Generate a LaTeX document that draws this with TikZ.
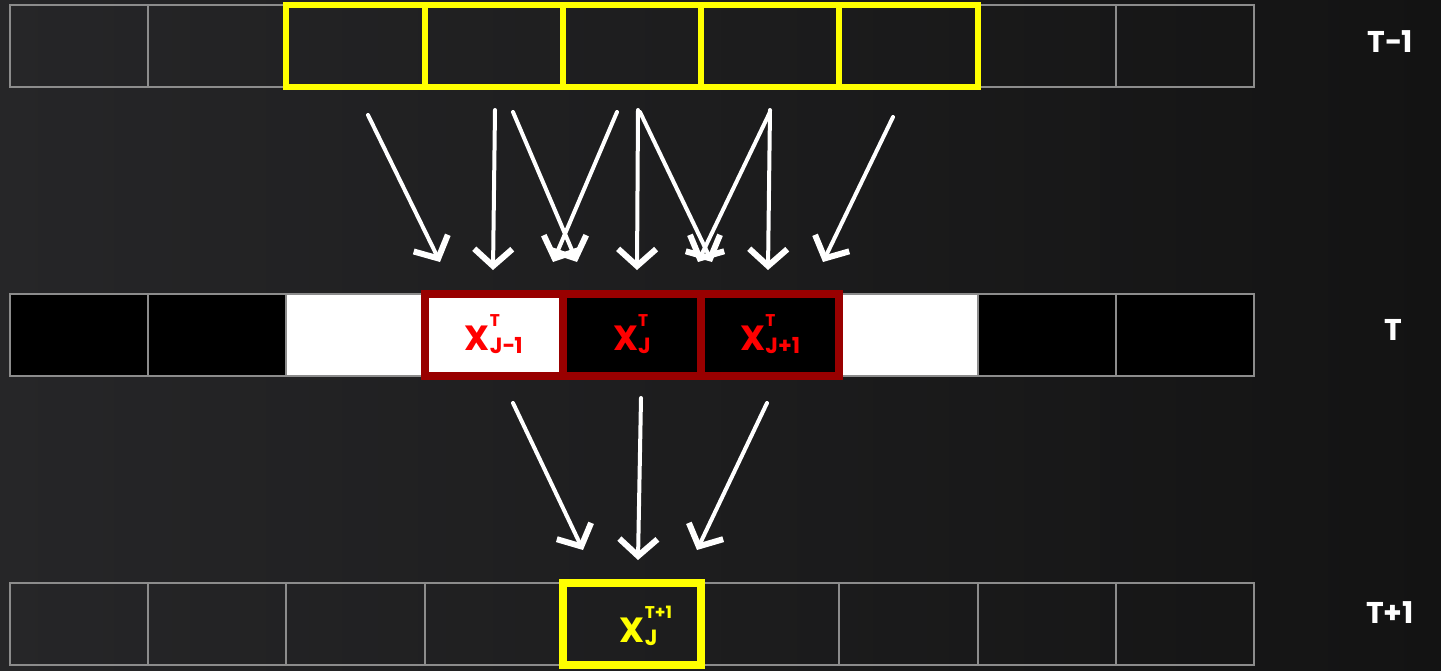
\documentclass[tikz,border=0pt]{standalone}
\usepackage{fontspec}
\setmainfont{Poppins}
\usetikzlibrary{arrows.meta}
\definecolor{bgL}{RGB}{38,38,40}
\definecolor{bgR}{RGB}{19,19,19}
\definecolor{cellgray}{RGB}{140,140,140}
\definecolor{darkred}{RGB}{153,0,0}
\definecolor{yel}{RGB}{255,255,0}
\definecolor{txtred}{RGB}{255,0,0}
\newcommand{\xlab}[2]{X\ooalign{\raisebox{24pt}{\fontsize{17}{17}\selectfont #1}\cr\raisebox{-3pt}{\fontsize{22}{22}\selectfont #2}\cr}}
\tikzset{
  cell/.style={draw=cellgray, line width=2pt, minimum width=138.22pt, minimum height=82pt, inner sep=0pt, outer sep=0pt},
  yelbox/.style={draw=yel, line width=6pt},
  yelbox3/.style={draw=yel, line width=8pt},
  redbox/.style={draw=darkred, line width=8pt},
  xtext/.style={font=\bfseries\fontsize{35}{35}\selectfont},
  rowlab/.style={text=white, font=\bfseries\fontsize{30}{30}\selectfont},
  chalk/.style={draw=white, line width=4pt, line cap=round,
    -{Straight Barb[length=17pt, width=38pt, line width=6pt]}}
}
\begin{document}
\begin{tikzpicture}[x=1pt, y=-1pt]
\shade[left color=bgL, right color=bgR] (0,0) rectangle (1441,670);
\useasboundingbox (0,0) rectangle (1441,670);
% row T-1
\foreach \i in {0,...,8}
  \node[cell] (a\i) at ({10+138.22*(\i+0.5)},46) {};
\foreach \i in {2,...,6}
  \draw[yelbox] (a\i.north west) rectangle (a\i.south east);
% row T
\foreach \i/\c in {0/black,1/black,2/white,3/white,4/black,5/black,6/white,7/black,8/black}
  \node[cell, fill=\c] (b\i) at ({10+138.22*(\i+0.5)},334.5) {};
\foreach \i in {3,4,5}
  \draw[redbox] (b\i.north west) rectangle (b\i.south east);
\node[xtext, text=txtred] (x3) at (b3) {\xlab{T}{J−1}};
\node[xtext, text=txtred] (x4) at (b4) {\xlab{T}{J}};
\node[xtext, text=txtred] (x5) at (b5) {\xlab{T}{J+1}};
% row T+1
\foreach \i in {0,...,8}
  \node[cell] (c\i) at ({10+138.22*(\i+0.5)},623.5) {};
\draw[yelbox3] (c4.north west) rectangle (c4.south east);
\node[xtext, text=yel] (x6) at ([xshift=14pt,yshift=-2pt]c4.center) {\xlab{T+1}{J}};
% row labels
\node[rowlab] (l1) at (1390,42) {T−1};
\node[rowlab] (l2) at (1393,330) {T};
\node[rowlab] (l3) at (1390,613) {T+1};
% arrow end points
\coordinate (s1) at (368,115); \coordinate (e1) at (440,262);
\coordinate (s2) at (495,110); \coordinate (e2) at (493,270);
\coordinate (s3) at (513,112); \coordinate (e3) at (577,262);
\coordinate (s4) at (617,112); \coordinate (e4) at (553,262);
\coordinate (s5) at (638,110); \coordinate (e5) at (637,270);
\coordinate (s6) at (640,112); \coordinate (e6) at (712,262);
\coordinate (s7) at (770,112); \coordinate (e7) at (698,262);
\coordinate (s8) at (770,110); \coordinate (e8) at (768,270);
\coordinate (s9) at (893,117); \coordinate (e9) at (823,262);
\foreach \k in {1,...,9}
  \draw[chalk] (s\k) -- (e\k);
\coordinate (u1) at (513,403); \coordinate (v1) at (583,550);
\coordinate (u2) at (641,398); \coordinate (v2) at (638,560);
\coordinate (u3) at (767,403); \coordinate (v3) at (697,550);
\foreach \k in {1,2,3}
  \draw[chalk] (u\k) -- (v\k);
\end{tikzpicture}
\end{document}
